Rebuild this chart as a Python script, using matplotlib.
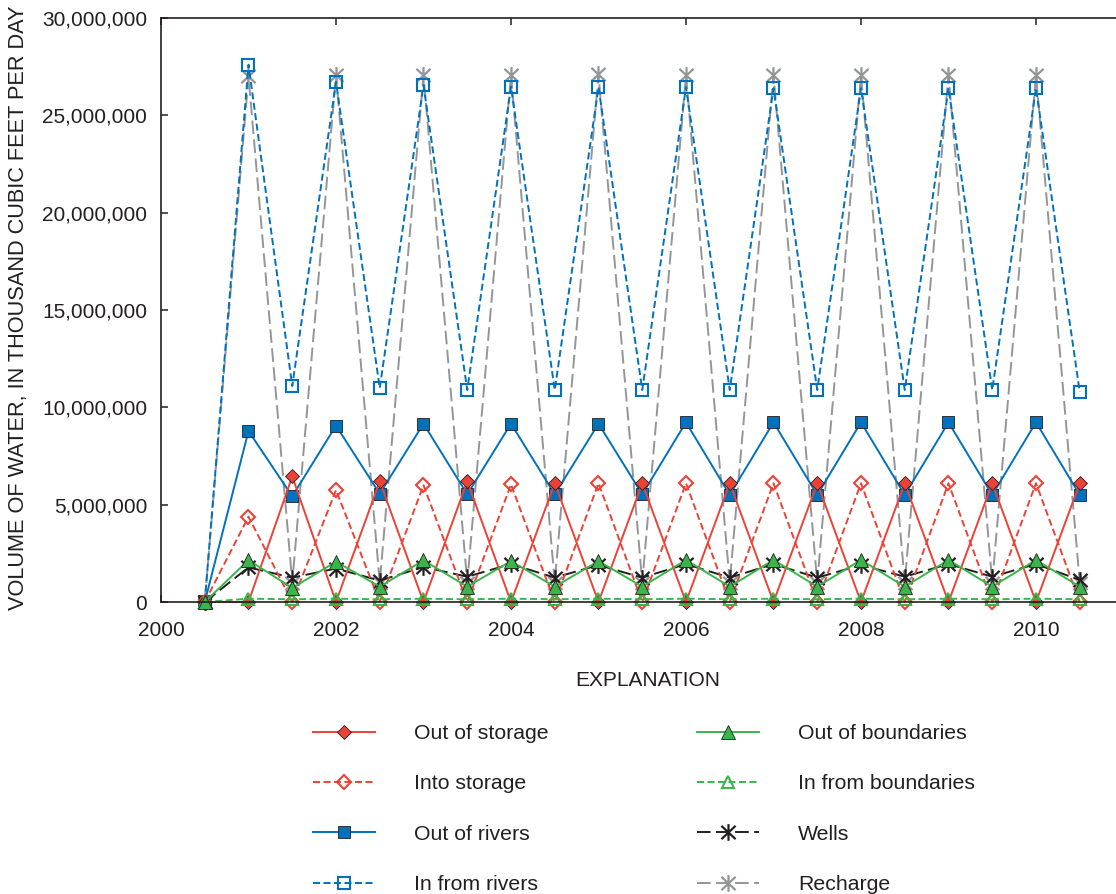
import matplotlib
matplotlib.use('Agg')
import matplotlib.pyplot as plt
from matplotlib.path import Path
from matplotlib.ticker import FuncFormatter

plt.rcParams['font.family'] = ['Liberation Sans', 'DejaVu Sans']

# half-year stress periods
years = [2000.5, 2001, 2001.5, 2002, 2002.5, 2003, 2003.5, 2004, 2004.5, 2005, 2005.5,
         2006, 2006.5, 2007, 2007.5, 2008, 2008.5, 2009, 2009.5, 2010, 2010.5]

# values in millions of thousand cubic feet per day
out_of_storage = [0, 0, 6.45, 0, 6.2, 0, 6.2, 0, 6.1, 0, 6.1,
                  0, 6.1, 0, 6.1, 0, 6.1, 0, 6.1, 0, 6.1]
into_storage = [0, 4.38, 0, 5.75, 0, 6.0, 0, 6.04, 0, 6.1, 0,
                6.1, 0, 6.1, 0, 6.1, 0, 6.1, 0, 6.1, 0]
out_of_rivers = [0, 8.78, 5.43, 9.06, 5.56, 9.16, 5.53, 9.16, 5.53, 9.16, 5.53,
                 9.23, 5.5, 9.23, 5.5, 9.23, 5.5, 9.23, 5.5, 9.23, 5.5]
in_from_rivers = [0, 27.6, 11.09, 26.72, 10.99, 26.55, 10.89, 26.47, 10.89, 26.45, 10.89,
                  26.45, 10.89, 26.4, 10.89, 26.4, 10.89, 26.4, 10.89, 26.4, 10.79]
out_of_boundaries = [0, 2.15, 0.72, 2.07, 0.79, 2.14, 0.79, 2.1, 0.79, 2.1, 0.79,
                     2.16, 0.79, 2.16, 0.79, 2.16, 0.79, 2.16, 0.79, 2.16, 0.79]
in_from_boundaries = [0, 0.17, 0.14, 0.17, 0.14, 0.17, 0.14, 0.17, 0.14, 0.17, 0.14,
                      0.17, 0.14, 0.17, 0.14, 0.17, 0.14, 0.17, 0.14, 0.17, 0.14]
wells = [0, 1.78, 1.25, 1.72, 1.1, 1.8, 1.3, 1.95, 1.25, 1.9, 1.25,
         1.95, 1.25, 1.95, 1.25, 1.9, 1.3, 1.95, 1.3, 1.95, 1.13]
recharge = [0, 27.0, 1.0, 27.07, 1.0, 27.07, 1.0, 27.07, 1.0, 27.1, 1.0,
            27.07, 1.0, 27.07, 1.0, 27.07, 1.0, 27.07, 1.0, 27.07, 1.0]

year_ticks = [2000, 2002, 2004, 2006, 2008, 2010]
value_ticks = [0, 5000000, 10000000, 15000000, 20000000, 25000000, 30000000]

RED = '#EE4136'
BLUE = '#0071BC'
GREEN = '#39B54A'
GRAY = '#939598'
BLACK = '#231F20'

def scale(vals):
    return [v * 1e6 for v in vals]

# asterisk: vertical stroke plus an x
star = Path([(0, -1), (0, 1), (-0.85, -0.8), (0.85, 0.8), (-0.85, 0.8), (0.85, -0.8)],
            [Path.MOVETO, Path.LINETO, Path.MOVETO, Path.LINETO, Path.MOVETO, Path.LINETO])

fig = plt.figure(figsize=(11.16, 8.94), dpi=100)
ax = fig.add_axes([161 / 1116, 1 - 602 / 894, 1 - 161 / 1116, (602 - 18) / 894])

lw = 1.4
short = (3.6, 1.8)
long_ = (7.0, 2.8)

lines = {}
lines['Recharge'] = ax.plot(years, scale(recharge), color=GRAY, lw=lw, dashes=long_,
                            marker=star, ms=12, mew=1.6, mfc='none', mec=GRAY, clip_on=False)[0]
lines['In from rivers'] = ax.plot(years, scale(in_from_rivers), color=BLUE, lw=lw, dashes=short,
                                  marker='s', ms=8, mfc='none', mec=BLUE, mew=1.5, clip_on=False)[0]
lines['Wells'] = ax.plot(years, scale(wells), color=BLACK, lw=lw, dashes=long_,
                         marker=star, ms=12, mew=1.6, mfc='none', mec=BLACK, clip_on=False)[0]
lines['Out of rivers'] = ax.plot(years, scale(out_of_rivers), color=BLUE, lw=lw,
                                 marker='s', ms=8.5, mfc=BLUE, mec=BLACK, mew=0.6, clip_on=False)[0]
lines['Into storage'] = ax.plot(years, scale(into_storage), color=RED, lw=lw, dashes=short,
                                marker='D', ms=7, mfc='none', mec=RED, mew=1.5, clip_on=False)[0]
lines['Out of storage'] = ax.plot(years, scale(out_of_storage), color=RED, lw=lw,
                                  marker='D', ms=7.5, mfc=RED, mec=BLACK, mew=0.6, clip_on=False)[0]
lines['In from boundaries'] = ax.plot(years, scale(in_from_boundaries), color=GREEN, lw=lw, dashes=short,
                                      marker='^', ms=9, mfc='none', mec=GREEN, mew=1.5, clip_on=False)[0]
lines['Out of boundaries'] = ax.plot(years, scale(out_of_boundaries), color=GREEN, lw=lw,
                                     marker='^', ms=9.5, mfc=GREEN, mec=BLACK, mew=0.6, clip_on=False)[0]

ax.set_xlim(2000, 2000 + (1116 - 161) / 87.5)
ax.set_ylim(0, 30000000)
ax.set_xticks(year_ticks)
ax.set_yticks(value_ticks)
ax.yaxis.set_major_formatter(FuncFormatter(lambda v, p: '{:,.0f}'.format(v)))
ax.tick_params(axis='x', direction='in', top=True, length=5, width=1.1, pad=14,
               labelsize=15, colors=BLACK)
ax.tick_params(axis='y', direction='in', length=5, width=1.1, pad=10,
               labelsize=15, colors=BLACK)
ax.spines['right'].set_visible(False)
for s in ['left', 'top', 'bottom']:
    ax.spines[s].set_linewidth(1.2)
    ax.spines[s].set_color(BLACK)

ax.set_ylabel('VOLUME OF WATER, IN THOUSAND CUBIC FEET PER DAY', fontsize=15.7, color=BLACK)
ax.yaxis.set_label_coords((29 - 161) / 955, 0.503)

fig.text(648 / 1116, 1 - 680 / 894, 'EXPLANATION', ha='center', va='center',
         fontsize=15, color=BLACK)

order = ['Out of storage', 'Into storage', 'Out of rivers', 'In from rivers',
         'Out of boundaries', 'In from boundaries', 'Wells', 'Recharge']
fig.legend([lines[k] for k in order], order, ncol=2, loc='upper left',
           bbox_to_anchor=(313 / 1116, 1 - 724 / 894), frameon=False, fontsize=15.3,
           handlelength=2.92, handletextpad=1.84, columnspacing=6.96, labelspacing=1.48,
           borderpad=0, borderaxespad=0, labelcolor=BLACK)

fig.savefig('out.png', dpi=100)
